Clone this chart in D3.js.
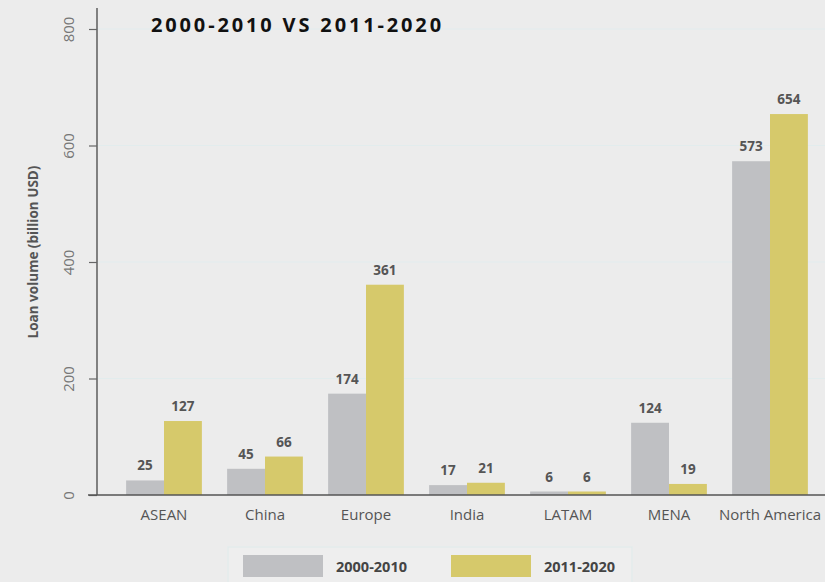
<!DOCTYPE html>
<html>
<head>
<meta charset="utf-8">
<script src="https://cdn.jsdelivr.net/npm/d3@7/dist/d3.min.js"></script>
<style>
  html, body { margin: 0; padding: 0; background: #ececec; }
  svg { display: block; }
  text { font-family: "Open Sans", "DejaVu Sans", sans-serif; }
</style>
</head>
<body>
<svg id="chart" width="825" height="582"></svg>
<script>
const categories = ["ASEAN", "China", "Europe", "India", "LATAM", "MENA", "North America"];
const series2000_2010 = [25, 45, 174, 17, 6, 124, 573];
const series2011_2020 = [127, 66, 361, 21, 6, 19, 654];
const seriesNames = ["2000-2010", "2011-2020"];
const seriesColors = ["#bfc0c3", "#d6c96b"];
const yTicks = [0, 200, 400, 600, 800];
const titleText = "2000-2010 VS 2011-2020";
const yAxisTitle = "Loan volume (billion USD)";

const svg = d3.select("#chart");
svg.append("rect").attr("width", 825).attr("height", 582).attr("fill", "#ececec");

const y = d3.scaleLinear().domain([0, 800]).range([495, 29]);
const x0 = d3.scaleBand().domain(categories).range([113.5, 820.5]).paddingInner(0.25).paddingOuter(0.125);
const x1 = d3.scaleBand().domain(seriesNames).range([0, x0.bandwidth()]);
const color = d3.scaleOrdinal().domain(seriesNames).range(seriesColors);

// gridlines
svg.append("g").selectAll("line").data(yTicks.filter(d => d > 0)).join("line")
  .attr("x1", 97).attr("x2", 825)
  .attr("y1", d => y(d)).attr("y2", d => y(d))
  .attr("stroke", "#e2eced").attr("stroke-width", 1.2);

// bars
const rows = categories.map((c, i) => ({ cat: c, vals: [series2000_2010[i], series2011_2020[i]] }));
const groups = svg.append("g").selectAll("g").data(rows).join("g")
  .attr("transform", d => `translate(${x0(d.cat)},0)`);
groups.selectAll("rect").data(d => d.vals.map((v, j) => ({ name: seriesNames[j], v }))).join("rect")
  .attr("x", d => x1(d.name))
  .attr("width", x1.bandwidth())
  .attr("y", d => y(d.v))
  .attr("height", d => y(0) - y(d.v))
  .attr("fill", d => color(d.name));
groups.selectAll("text").data(d => d.vals.map((v, j) => ({ name: seriesNames[j], v }))).join("text")
  .attr("x", d => x1(d.name) + x1.bandwidth() / 2)
  .attr("y", d => y(d.v) - 10)
  .attr("text-anchor", "middle")
  .attr("font-size", 13.5).attr("font-weight", "bold").attr("fill", "#555")
  .text(d => d.v);

// y axis
const yAxis = svg.append("g").attr("transform", "translate(97,0)")
  .call(d3.axisLeft(y).tickValues(yTicks).tickSize(8).tickSizeOuter(0));
yAxis.select(".domain").remove();
yAxis.selectAll(".tick line").attr("stroke", "#666").attr("stroke-width", 1.2);
yAxis.selectAll(".tick text")
  .attr("x", 0).attr("y", 0).attr("dy", null)
  .attr("text-anchor", "middle")
  .attr("font-family", "'Open Sans', sans-serif")
  .attr("font-size", 15).attr("fill", "#777")
  .attr("transform", "translate(-23,0) rotate(-90)");
svg.append("line").attr("x1", 97).attr("x2", 97).attr("y1", 8).attr("y2", 495)
  .attr("stroke", "#666").attr("stroke-width", 1.6);

// x axis
const xAxis = svg.append("g").attr("transform", "translate(0,495)")
  .call(d3.axisBottom(x0).tickSize(0).tickSizeOuter(0));
xAxis.select(".domain").remove();
xAxis.selectAll(".tick text").attr("y", 25).attr("dy", null)
  .attr("font-family", "'Open Sans', sans-serif")
  .attr("font-size", 15).attr("fill", "#555");
svg.append("line").attr("x1", 88).attr("x2", 825).attr("y1", 495).attr("y2", 495)
  .attr("stroke", "#555").attr("stroke-width", 1.6);

// y title
svg.append("text")
  .attr("transform", "translate(38,252) rotate(-90)")
  .attr("text-anchor", "middle")
  .attr("font-size", 13.5).attr("font-weight", "bold").attr("fill", "#555")
  .text(yAxisTitle);

// title
svg.append("text").attr("x", 151).attr("y", 32)
  .attr("font-size", 20).attr("font-weight", "bold").attr("fill", "#111")
  .attr("letter-spacing", 2.85)
  .text(titleText);

// legend
const legend = svg.append("g");
legend.append("rect").attr("x", 228).attr("y", 547).attr("width", 404).attr("height", 40)
  .attr("fill", "#eeeeee").attr("stroke", "#e3ebeb").attr("stroke-width", 1.5);
const items = legend.selectAll("g.item").data(seriesNames).join("g").attr("class", "item")
  .attr("transform", (d, i) => `translate(${243 + i * 208},555)`);
items.append("rect").attr("width", 80).attr("height", 22).attr("fill", d => color(d));
items.append("text").attr("x", 93).attr("y", 17)
  .attr("font-size", 14.5).attr("font-weight", "bold").attr("fill", "#444")
  .text(d => d);
</script>
</body>
</html>
